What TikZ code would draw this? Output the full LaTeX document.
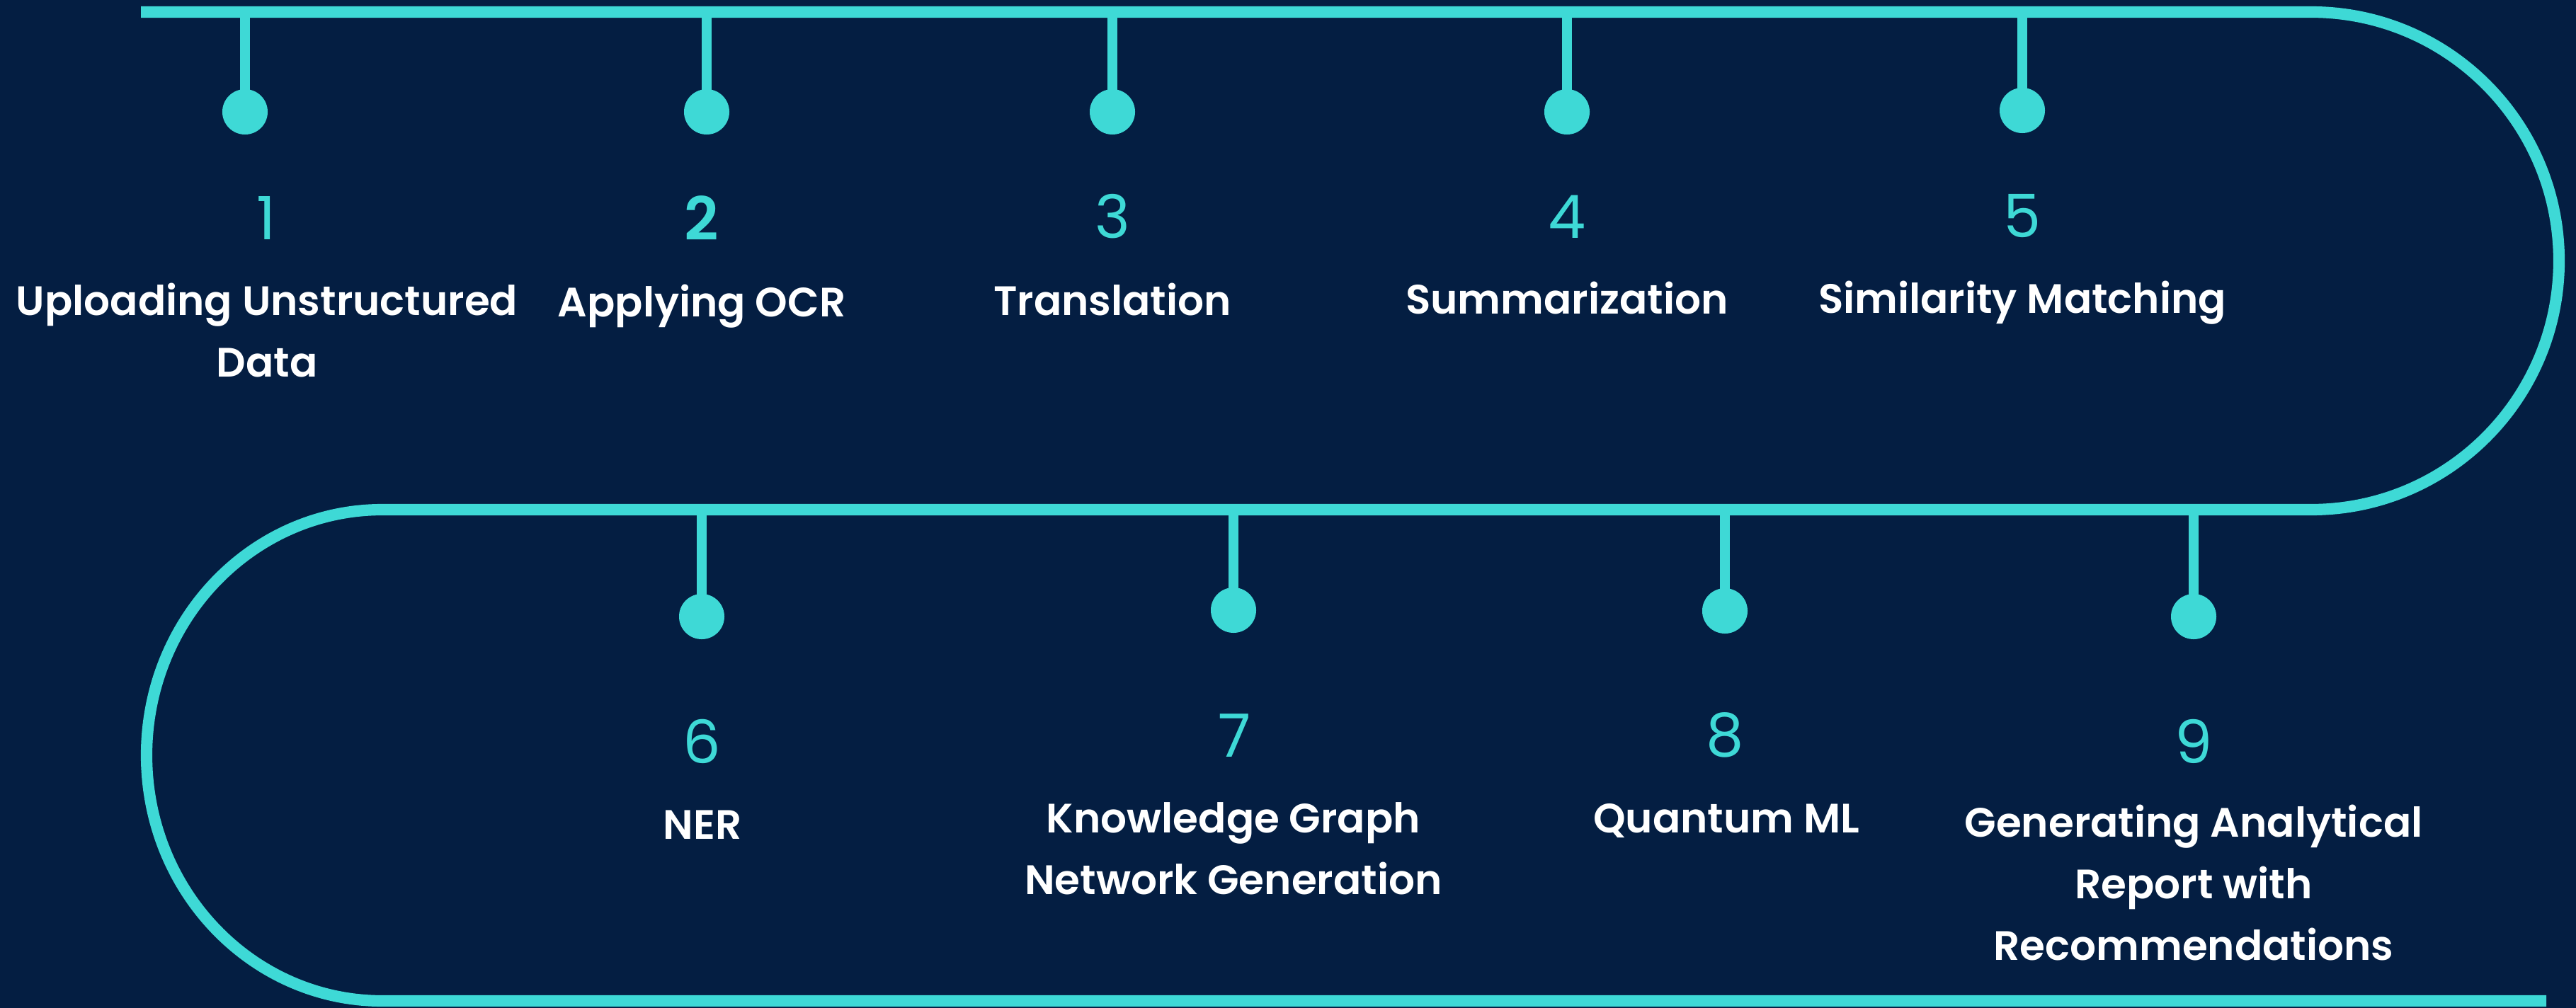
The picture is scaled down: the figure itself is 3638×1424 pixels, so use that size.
\documentclass[tikz,border=0pt]{standalone}
\usepackage{fontspec}
\setmainfont{Poppins}[BoldFont={Poppins SemiBold}]
\usetikzlibrary{positioning}
\definecolor{navy}{RGB}{4,30,66}
\definecolor{aqua}{RGB}{62,217,214}

\begin{document}
\begin{tikzpicture}[x=0.01cm, y=-0.01cm,
        track/.style={aqua, line width=4.6pt},
        stem/.style={aqua, line width=4pt},
        dot/.style={circle, fill=aqua, minimum size=0.64cm, inner sep=0pt},
        num/.style={aqua, inner sep=0pt, font=\fontsize{24}{28}\selectfont},
        lbl/.style={white, inner sep=0pt, anchor=base, align=center, font=\fontsize{16.5}{24.7}\selectfont\bfseries}]
    \fill[navy] (0,0) rectangle (3638,1424);

    % the track, upper run then lower run
    \draw[track] (199,17) -- (3264,17)
        arc[start angle=-90, end angle=90, x radius=350, y radius=351.5]
        -- (540,720)
        arc[start angle=270, end angle=90, x radius=333, y radius=347]
        -- (3596,1414);

    \coordinate (t1) at (346,17);
    \coordinate (t2) at (998,17);
    \coordinate (t3) at (1571,17);
    \coordinate (t4) at (2213,17);
    \coordinate (t5) at (2856,17);
    \coordinate (t6) at (991,720);
    \coordinate (t7) at (1742,720);
    \coordinate (t8) at (2436,720);
    \coordinate (t9) at (3098,720);

    \node[dot] (d1) at (346,158) {};
    \node[dot] (d2) at (998,158) {};
    \node[dot] (d3) at (1571,158) {};
    \node[dot] (d4) at (2213,158) {};
    \node[dot] (d5) at (2856,156) {};
    \node[dot] (d6) at (991,871) {};
    \node[dot] (d7) at (1742,862) {};
    \node[dot] (d8) at (2436,863) {};
    \node[dot] (d9) at (3098,871) {};

    \draw[stem]
    (t1) edge (d1.center)
    (t2) edge (d2.center)
    (t3) edge (d3.center)
    (t4) edge (d4.center)
    (t5) edge (d5.center)
    (t6) edge (d6.center)
    (t7) edge (d7.center)
    (t8) edge (d8.center)
    (t9) -- (d9.center);

    \node[num] (n1) at (376,308) {1};
    \node[num, font=\fontsize{24}{28}\selectfont\bfseries] (n2) at (991,308) {2};
    \node[num] (n3) at (1571,306) {3};
    \node[num] (n4) at (2213,306) {4};
    \node[num] (n5) at (2856,305) {5};
    \node[num] (n6) at (991,1047) {6};
    \node[num] (n7) at (1744,1039) {7};
    \node[num] (n8) at (2436,1038) {8};
    \node[num] (n9) at (3098,1047) {9};

    % multi-line labels sit on their last line
    \node[lbl] (l1) at (377,532) {Uploading Unstructured\\Data};
    \node[lbl] (l2) at (991,447) {Applying OCR};
    \node[lbl] (l3) at (1571,445) {Translation};
    \node[lbl] (l4) at (2213,443) {Summarization};
    \node[lbl] (l5) at (2856,442) {Similarity Matching};
    \node[lbl] (l6) at (992,1185) {NER};
    \node[lbl] (l7) at (1742,1263) {Knowledge Graph\\Network Generation};
    \node[lbl] (l8) at (2438,1176) {Quantum ML};
    \node[lbl] (l9) at (3098,1356) {Generating Analytical\\Report with\\Recommendations};
\end{tikzpicture}
\end{document}
